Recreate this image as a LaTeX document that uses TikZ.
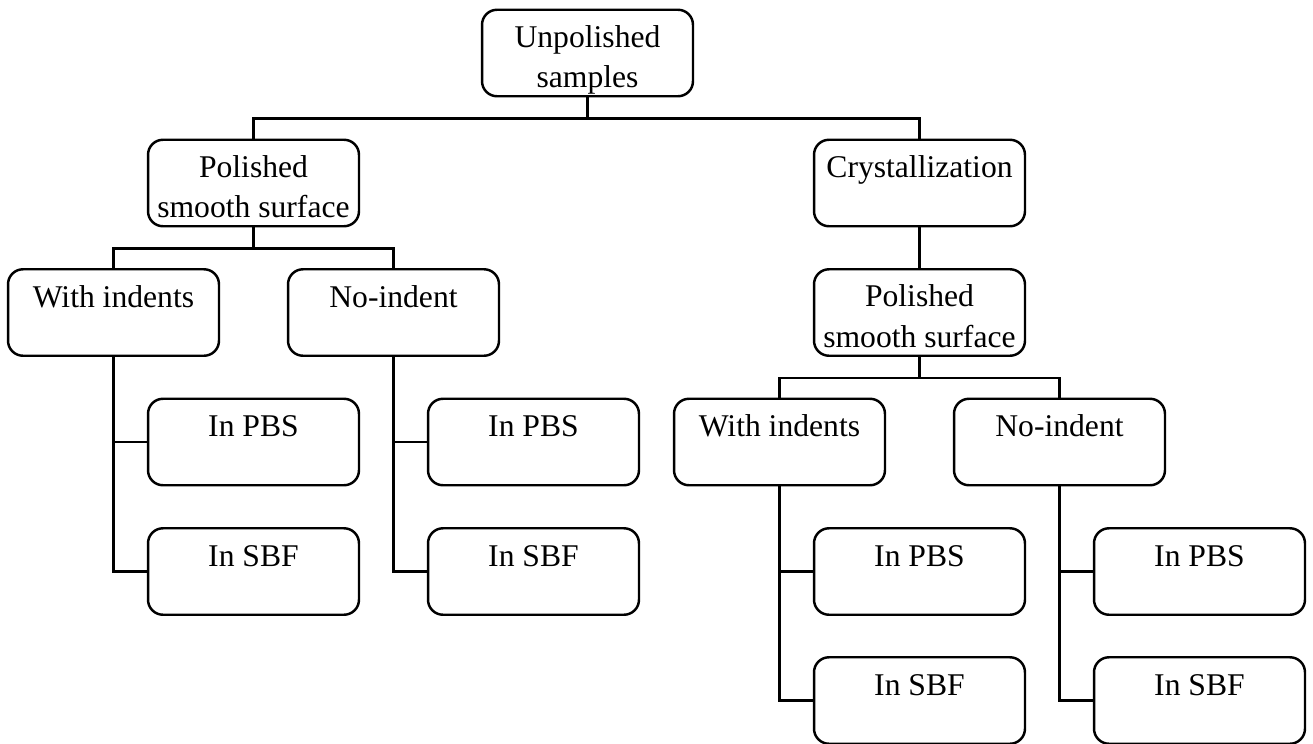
\documentclass[tikz,border=0pt]{standalone}
\usepackage{fontspec}
\setmainfont{Liberation Serif}
\tikzset{
 stage/.style={draw,line width=1.4pt,rounded corners=0.3cm,minimum width=4.22cm,inner sep=0pt,
  align=center,text height=0.76cm,text depth=0.97cm,font=\fontsize{18}{23}\selectfont},
 stage2/.style={stage,text height=1.56cm,text depth=0.17cm},
 link/.style={line width=1.4pt}
}
\begin{document}
\begin{tikzpicture}[x=0.02cm,y=0.02cm]
 \useasboundingbox (0,0) rectangle (1313,-744);
 \node[stage2](unp) at (587.5,-53){Unpolished\\samples};
 \node[stage2](pol1) at (253.5,-183){Polished\\smooth surface};
 \node[stage](cry) at (919.5,-183){Crystallization};
 \node[stage](wi1) at (113.5,-312.5){With indents};
 \node[stage](ni1) at (393.5,-312.5){No-indent};
 \node[stage](pbs1) at (253.5,-442){In PBS};
 \node[stage](sbf1) at (253.5,-571.5){In SBF};
 \node[stage](pbs2) at (533.5,-442){In PBS};
 \node[stage](sbf2) at (533.5,-571.5){In SBF};
 \node[stage2](pol2) at (919.5,-312.5){Polished\\smooth surface};
 \node[stage](wi2) at (779.5,-442){With indents};
 \node[stage](ni2) at (1059.5,-442){No-indent};
 \node[stage](pbs3) at (919.5,-571.5){In PBS};
 \node[stage](sbf3) at (919.5,-700.5){In SBF};
 \node[stage](pbs4) at (1199.5,-571.5){In PBS};
 \node[stage](sbf4) at (1199.5,-700.5){In SBF};
 % top split
 \draw[link] (unp.south) -- ++(0,-21) coordinate (b0);
 \draw[link] (pol1.north) |- (b0) -| (cry.north);
 % left branch
 \draw[link] (pol1.south) -- ++(0,-21) coordinate (b1);
 \draw[link] (wi1.north) |- (b1) -| (ni1.north);
 \draw[link] (wi1.south) |- (pbs1.west);
 \draw[link] (wi1.south) |- (sbf1.west);
 \draw[link] (ni1.south) |- (pbs2.west);
 \draw[link] (ni1.south) |- (sbf2.west);
 % right branch
 \draw[link] (cry.south) -- (pol2.north);
 \draw[link] (pol2.south) -- ++(0,-21) coordinate (b2);
 \draw[link] (wi2.north) |- (b2) -| (ni2.north);
 \draw[link] (wi2.south) |- (pbs3.west);
 \draw[link] (wi2.south) |- (sbf3.west);
 \draw[link] (ni2.south) |- (pbs4.west);
 \draw[link] (ni2.south) |- (sbf4.west);
\end{tikzpicture}
\end{document}
